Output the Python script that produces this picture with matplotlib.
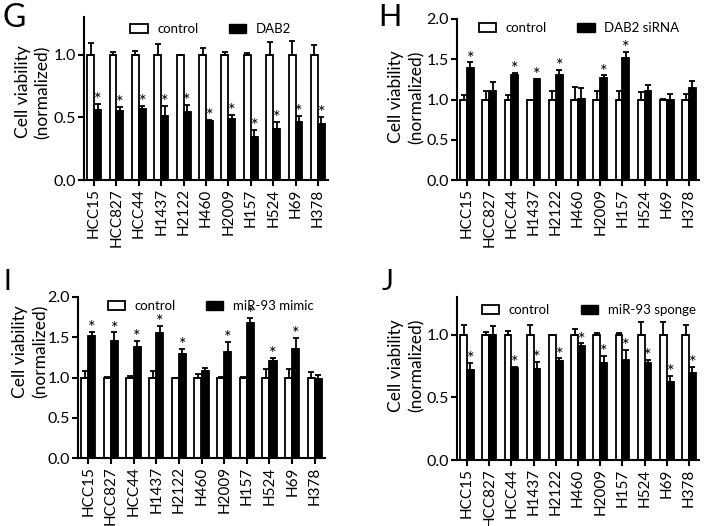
import numpy as np
import matplotlib.pyplot as plt
from matplotlib.patches import Patch

plt.rcParams['font.family'] = ['Lato', 'DejaVu Sans']

cells = ["HCC15", "HCC827", "HCC44", "H1437", "H2122", "H460",
         "H2009", "H157", "H524", "H69", "H378"]
ctrl = [1.0] * 11

# G: DAB2 overexpression
g_ctrl_err = [0.09, 0.02, 0.03, 0.085, 0.0, 0.05, 0.02, 0.01, 0.10, 0.105, 0.075]
g_trt = [0.56, 0.55, 0.57, 0.51, 0.54, 0.47, 0.49, 0.34, 0.41, 0.46, 0.45]
g_trt_err = [0.05, 0.035, 0.02, 0.08, 0.06, 0.01, 0.03, 0.06, 0.05, 0.05, 0.05]
g_star = [1, 1, 1, 1, 1, 1, 1, 1, 1, 1, 1]

# H: DAB2 siRNA
h_ctrl_err = [0.06, 0.10, 0.06, 0.0, 0.10, 0.15, 0.11, 0.10, 0.09, 0.01, 0.07]
h_trt = [1.39, 1.10, 1.31, 1.25, 1.30, 1.01, 1.27, 1.52, 1.10, 1.00, 1.14]
h_trt_err = [0.07, 0.12, 0.02, 0.01, 0.07, 0.13, 0.03, 0.07, 0.08, 0.07, 0.09]
h_star = [1, 0, 1, 1, 1, 0, 1, 1, 0, 0, 0]

# I: miR-93 mimic
i_ctrl_err = [0.08, 0.01, 0.02, 0.08, 0.0, 0.04, 0.01, 0.01, 0.10, 0.10, 0.07]
i_trt = [1.52, 1.45, 1.38, 1.55, 1.29, 1.08, 1.32, 1.68, 1.20, 1.35, 0.98]
i_trt_err = [0.05, 0.11, 0.07, 0.09, 0.06, 0.04, 0.12, 0.06, 0.04, 0.14, 0.05]
i_star = [1, 1, 1, 1, 1, 0, 1, 1, 1, 1, 0]

# J: miR-93 sponge
j_ctrl_err = [0.08, 0.02, 0.03, 0.08, 0.0, 0.045, 0.01, 0.01, 0.10, 0.10, 0.075]
j_trt = [0.72, 1.00, 0.735, 0.725, 0.79, 0.91, 0.77, 0.80, 0.775, 0.62, 0.69]
j_trt_err = [0.055, 0.07, 0.01, 0.055, 0.02, 0.02, 0.06, 0.075, 0.02, 0.05, 0.05]
j_star = [1, 0, 1, 1, 1, 1, 1, 1, 1, 1, 1]


def draw_panel(ax, trt, trt_err, ctrl_err, stars, trt_name, ymax, yticks,
               leg_x, leg_y, lab_x, lab_y):
    x = np.arange(len(cells))
    w = 0.31
    ax.bar(x - w / 2, ctrl, w, color='white', edgecolor='black', linewidth=1.3, zorder=2)
    ax.bar(x + w / 2, trt, w, color='black', edgecolor='black', linewidth=1.3, zorder=2)
    ax.errorbar(x - w / 2, ctrl, yerr=[np.zeros(len(x)), ctrl_err], fmt='none',
                ecolor='black', elinewidth=1.3, capsize=2, capthick=1.3, zorder=3)
    ax.errorbar(x + w / 2, trt, yerr=[np.zeros(len(x)), trt_err], fmt='none',
                ecolor='black', elinewidth=1.3, capsize=2, capthick=1.3, zorder=3)
    for i in range(len(x)):
        if stars[i]:
            ax.annotate('*', (x[i] + w / 2, trt[i] + trt_err[i]), xytext=(0, -3),
                        textcoords='offset points', ha='center', va='bottom', fontsize=13)
    ax.set_xlim(-0.45, len(x) - 0.55)
    ax.set_ylim(0, ymax)
    ax.set_yticks(yticks)
    ax.set_yticklabels(['%.1f' % t for t in yticks], fontsize=11.5)
    ax.set_xticks(x)
    ax.set_xticklabels(cells, rotation=90, fontsize=11)
    for s in ['top', 'right']:
        ax.spines[s].set_visible(False)
    for s in ['left', 'bottom']:
        ax.spines[s].set_linewidth(1.5)
    ax.tick_params(axis='both', width=1.5, length=4, pad=2)
    ax.set_ylabel('Cell viability\n(normalized)', fontsize=12.5, linespacing=1.3)
    ax.yaxis.set_label_coords(lab_x, lab_y)
    handles = [Patch(facecolor='white', edgecolor='black', linewidth=1.3, label='control'),
               Patch(facecolor='black', edgecolor='black', label=trt_name)]
    ax.legend(handles=handles, ncol=2, loc='center left', bbox_to_anchor=(leg_x, leg_y),
              frameon=False, fontsize=9.5, borderpad=0, borderaxespad=0,
              handlelength=1.3, handleheight=0.6, handletextpad=0.75, columnspacing=2.3)


fig = plt.figure(figsize=(7.04, 5.26), dpi=100)
axG = fig.add_axes([84 / 704, 1 - 180 / 526, 244 / 704, 163 / 526])
axH = fig.add_axes([457 / 704, 1 - 180 / 526, 242 / 704, 161 / 526])
axI = fig.add_axes([78 / 704, 1 - 458 / 526, 247 / 704, 161 / 526])
axJ = fig.add_axes([457 / 704, 1 - 460 / 526, 242 / 704, 163 / 526])

draw_panel(axG, g_trt, g_trt_err, g_ctrl_err, g_star, 'DAB2', 1.3, [0, 0.5, 1.0],
           0.19, 0.926, -0.135, 0.54)
draw_panel(axH, h_trt, h_trt_err, h_ctrl_err, h_star, 'DAB2 siRNA', 2.0, [0, 0.5, 1.0, 1.5, 2.0],
           0.09, 0.944, -0.135, 0.515)
draw_panel(axI, i_trt, i_trt_err, i_ctrl_err, i_star, 'miR-93 mimic', 2.0, [0, 0.5, 1.0, 1.5, 2.0],
           0.12, 0.944, -0.12, 0.66)
draw_panel(axJ, j_trt, j_trt_err, j_ctrl_err, j_star, 'miR-93 sponge', 1.3, [0, 0.5, 1.0],
           0.103, 0.92, -0.135, 0.58)

fig.text(14 / 704, 1 - 18 / 526, 'G', fontsize=23, ha='center', va='center')
fig.text(390 / 704, 1 - 17 / 526, 'H', fontsize=22, ha='center', va='center')
fig.text(7 / 704, 1 - 282 / 526, 'I', fontsize=20, ha='center', va='center')
fig.text(388 / 704, 1 - 282 / 526, 'J', fontsize=20, ha='center', va='center')

fig.savefig('out.png', dpi=100)
